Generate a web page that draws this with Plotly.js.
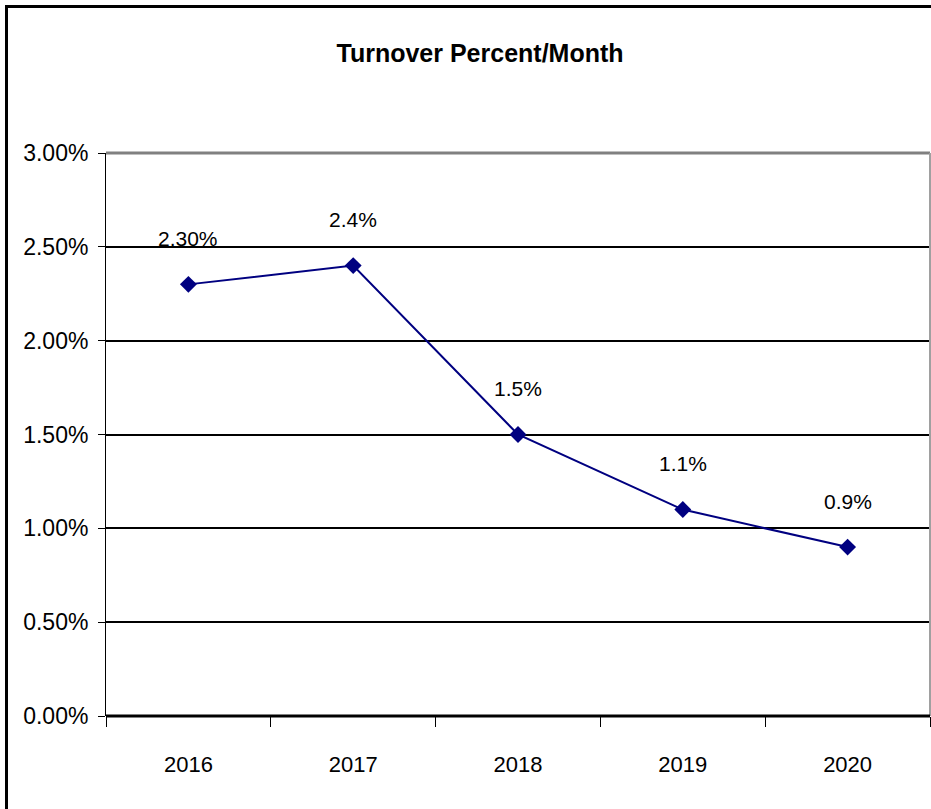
<!DOCTYPE html>
<html>
<head>
<meta charset="utf-8">
<script src="https://cdn.plot.ly/plotly-3.0.1.min.js"></script>
<style>html,body{margin:0;padding:0;background:#fff;}#chart{width:931px;height:809px;}</style>
</head>
<body>
<div id="chart"></div>
<script>
const years = ['2016', '2017', '2018', '2019', '2020'];
const turnover = [0.023, 0.024, 0.015, 0.011, 0.009];
const labels = ['2.30%', '2.4%', '1.5%', '1.1%', '0.9%'];
const yTicks = [0, 0.005, 0.01, 0.015, 0.02, 0.025, 0.03];

const FONT = '"Liberation Sans Narrow", "Arial Narrow", "Liberation Sans", Arial, sans-serif';
const NAVY = '#000080';

const trace = {
  type: 'scatter', mode: 'lines+markers',
  x: years, y: turnover,
  line: {color: NAVY, width: 2},
  marker: {symbol: 'diamond', size: 13, color: NAVY},
  hoverinfo: 'skip', showlegend: false
};

const annotations = years.map((yr, i) => ({
  x: i, y: turnover[i], xref: 'x', yref: 'y',
  text: labels[i], showarrow: false, yshift: 46,
  font: {family: FONT, size: 21, color: '#000'}
}));

const layout = {
  width: 931, height: 809,
  margin: {l: 106, r: 1, t: 153, b: 93},
  paper_bgcolor: '#fff', plot_bgcolor: '#fff',
  title: {text: '<b>Turnover Percent/Month</b>', x: 0.5156, xref: 'container', y: 1 - 53/809, yref: 'container', yanchor: 'middle',
          font: {family: FONT, size: 25, color: '#000'}},
  xaxis: {
    type: 'category', tickson: 'boundaries', ticks: 'outside', ticklen: 10, tickcolor: '#000', tickwidth: 1,
    showgrid: false, showline: false, zeroline: false, ticklabelstandoff: 33,
    tickfont: {family: FONT, size: 22, color: '#000'}, range: [-0.5, 4.5], fixedrange: true
  },
  yaxis: {
    range: [0, 0.03], tickvals: yTicks, tickformat: '.2%', ticks: 'outside', ticklen: 7, tickcolor: '#000', tickwidth: 1,
    showgrid: true, gridcolor: '#000', gridwidth: 2, zeroline: false,
    showline: true, linecolor: '#000', linewidth: 1, ticklabelstandoff: 5,
    tickfont: {family: FONT, size: 23, color: '#000'}, fixedrange: true
  },
  shapes: [
    {type: 'line', xref: 'paper', yref: 'paper', x0: 0, x1: 1, y0: 1, y1: 1, line: {color: '#808080', width: 3}, layer: 'above'},
    {type: 'line', xref: 'paper', yref: 'paper', x0: 1, x1: 1, y0: 0, y1: 1, line: {color: '#a0a0a0', width: 2}, layer: 'above'},
    {type: 'line', xref: 'paper', yref: 'paper', x0: 0, x1: 1, y0: 0, y1: 0, line: {color: '#000', width: 3}, layer: 'above'},
    {type: 'rect', xref: 'paper', yref: 'paper', x0: -99.5/824, x1: 1.2, y0: -0.3, y1: 1 + 146.5/563, line: {color: '#000', width: 3}, fillcolor: 'rgba(0,0,0,0)', layer: 'above'}
  ],
  annotations: annotations
};

Plotly.newPlot('chart', [trace], layout, {displayModeBar: false, staticPlot: true});
</script>
</body>
</html>
